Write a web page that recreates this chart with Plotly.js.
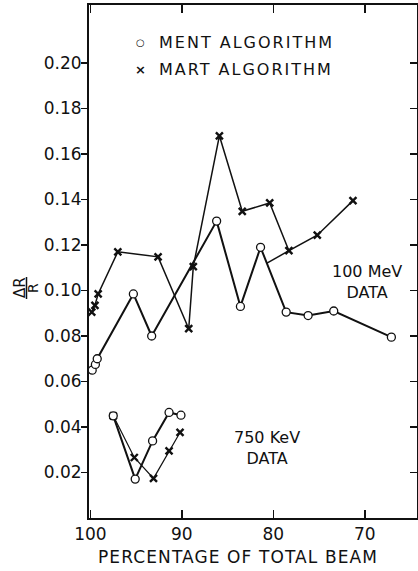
<!DOCTYPE html>
<html>
<head>
<meta charset="utf-8">
<script src="https://cdn.plot.ly/plotly-3.0.1.min.js"></script>
<style>html,body{margin:0;padding:0;background:#fff;}#chart{width:418px;height:571px;}</style>
</head>
<body>
<div id="chart"></div>
<script>
// 100 MeV data
var ment100X = [99.8, 99.45, 99.25, 95.3, 93.3, 86.2, 83.6, 81.4, 78.6, 76.2, 73.4, 67.1];
var ment100Y = [0.065, 0.0675, 0.070, 0.0985, 0.080, 0.1305, 0.093, 0.119, 0.0905, 0.089, 0.091, 0.0795];
var mart100X = [99.85, 99.5, 99.15, 97.0, 92.6, 89.25, 88.75, 85.9, 83.4, 80.4, 78.3, 75.2, 71.3];
var mart100Y = [0.0905, 0.0935, 0.0985, 0.117, 0.1148, 0.0832, 0.1105, 0.168, 0.1348, 0.1385, 0.1175, 0.1243, 0.1395];
// stray connecting segment drawn in the original figure
var martLinkX = [80.7, 78.3];
var martLinkY = [0.112, 0.1175];
// 750 KeV data
var ment750X = [97.5, 95.1, 93.2, 91.4, 90.1];
var ment750Y = [0.0449, 0.0171, 0.0339, 0.0464, 0.0452];
var mart750X = [97.5, 95.2, 93.1, 91.4, 90.2];
var mart750Y = [0.0449, 0.0266, 0.0174, 0.0295, 0.0376];
// axes
var xTicks = [100, 90, 80, 70];
var yTicks = [0.02, 0.04, 0.06, 0.08, 0.10, 0.12, 0.14, 0.16, 0.18, 0.20];
var yTickText = yTicks.map(function (v) { return v.toFixed(2); });

var F = "DejaVu Sans, sans-serif";
var K = "#111";

function martTrace(x, y, w) {
  return {x: x, y: y, type: "scatter", mode: "lines+markers", showlegend: false,
    line: {color: K, width: w},
    marker: {symbol: "x-thin-open", size: 7, line: {color: K, width: 2.4}}};
}
function mentTrace(x, y, w) {
  return {x: x, y: y, type: "scatter", mode: "lines+markers", showlegend: false,
    line: {color: K, width: w},
    marker: {symbol: "circle", size: 8, color: "#fff", line: {color: K, width: 1.3}}};
}

var traces = [
  martTrace(mart100X, mart100Y, 1.5),
  {x: martLinkX, y: martLinkY, yaxis: "y2", type: "scatter", mode: "lines", showlegend: false,
   line: {color: K, width: 1.5}},
  mentTrace(ment100X, ment100Y, 2),
  martTrace(mart750X, mart750Y, 1.2),
  mentTrace(ment750X, ment750Y, 2)
];

function px(p) { return (p - 89) / 328; }
function py(p) { return (518 - p) / 513; }

var sp = function (t, s) { return '<span style="letter-spacing:' + s + 'px">' + t + '</span>'; };

var layout = {
  width: 418, height: 571,
  margin: {l: 89, r: 1, t: 5, b: 53},
  paper_bgcolor: "#fff", plot_bgcolor: "#fff",
  font: {family: F, color: K, size: 16},
  showlegend: false,
  xaxis: {range: [100.15, 64.3], tickvals: xTicks, ticks: "inside", ticklen: 8, tickwidth: 1.5,
    tickcolor: K, showline: true, linewidth: 2, linecolor: K, mirror: "ticks",
    showgrid: false, zeroline: false, tickfont: {family: F, size: 17, color: K}},
  yaxis: {range: [0, 0.2255], tickvals: yTicks, ticktext: yTickText, ticks: "outside", ticklen: 6,
    tickwidth: 1.5, tickcolor: K, showline: true, linewidth: 2, linecolor: K, ticklabelstandoff: -4,
    showgrid: false, zeroline: false, tickfont: {family: F, size: 17, color: K}},
  yaxis2: {range: [0, 0.2255], overlaying: "y", side: "right", tickvals: yTicks, ticks: "inside",
    ticklen: 7, tickwidth: 1.5, tickcolor: K, showline: true, linewidth: 2, linecolor: K,
    showticklabels: false, showgrid: false, zeroline: false},
  annotations: [
    {xref: "paper", yref: "paper", x: px(140), y: py(42.5), text: "<b>○</b>", showarrow: false,
     font: {size: 10}, xanchor: "center", yanchor: "middle"},
    {xref: "paper", yref: "paper", x: px(157), y: py(42.5), text: sp("MENT ALGORITHM", 2), showarrow: false,
     font: {size: 16}, xanchor: "left", yanchor: "middle"},
    {xref: "paper", yref: "paper", x: px(140), y: py(69), text: "<b>×</b>", showarrow: false,
     font: {size: 13}, xanchor: "center", yanchor: "middle"},
    {xref: "paper", yref: "paper", x: px(157), y: py(69), text: sp("MART ALGORITHM", 2), showarrow: false,
     font: {size: 16}, xanchor: "left", yanchor: "middle"},
    {xref: "paper", yref: "paper", x: px(367), y: py(282), text: "100 MeV<br>DATA", showarrow: false,
     font: {size: 16}, xanchor: "center", yanchor: "middle"},
    {xref: "paper", yref: "paper", x: px(267), y: py(448), text: "750 KeV<br>DATA", showarrow: false,
     font: {size: 16}, xanchor: "center", yanchor: "middle"},
    {xref: "paper", yref: "paper", x: px(238), y: py(557), text: sp("PERCENTAGE OF TOTAL BEAM", 1.1), showarrow: false,
     font: {size: 17}, xanchor: "center", yanchor: "middle"},
    {xref: "paper", yref: "paper", x: px(20), y: py(288), text: "ΔR", textangle: -90, showarrow: false,
     font: {size: 15}, xanchor: "center", yanchor: "middle"},
    {xref: "paper", yref: "paper", x: px(33), y: py(288), text: "R", textangle: -90, showarrow: false,
     font: {size: 14}, xanchor: "center", yanchor: "middle"}
  ],
  shapes: [
    {type: "line", xref: "paper", yref: "paper", x0: px(26.5), x1: px(26.5), y0: py(277), y1: py(299),
     line: {color: K, width: 1.5}}
  ]
};

Plotly.newPlot("chart", traces, layout, {displayModeBar: false, staticPlot: true});
</script>
</body>
</html>
